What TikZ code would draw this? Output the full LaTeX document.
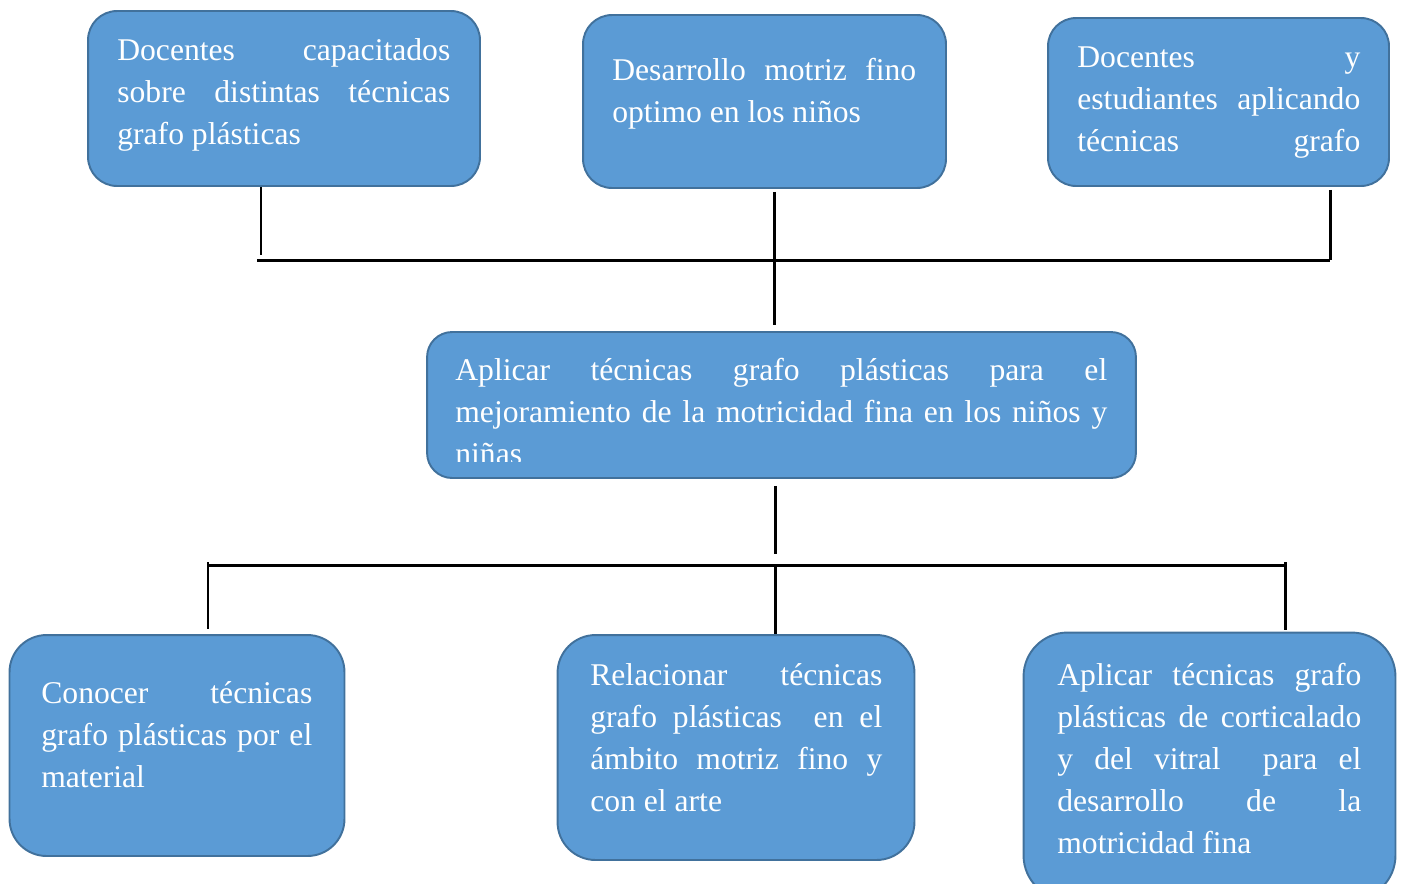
\documentclass[tikz,border=0pt]{standalone}
\usepackage{fontspec}
\setmainfont{Liberation Serif}
\definecolor{azul}{HTML}{5B9BD5}
\definecolor{borde}{HTML}{41719C}
\newcommand{\anchotexto}{5cm}
\newcommand{\renglon}[1]{\makebox[\anchotexto][s]{\strut #1}}

\begin{document}
\begin{tikzpicture}[x=0.02cm,y=-0.02cm,
  caja/.style={draw=borde,fill=azul,line width=1.1pt,inner sep=0pt},
  texto/.style={text=white,inner sep=0pt,anchor=north west,align=left,
    font=\fontsize{18}{23.9}\selectfont},
  ancho/.code={\renewcommand{\anchotexto}{#1}},
  linea/.style={line width=1.7pt}]
\useasboundingbox (0,0) rectangle (1402,883);
\clip (0,0) rectangle (1402,883);

\node[caja,minimum width=7.84cm,minimum height=3.5cm,rounded corners=0.58cm] (c1) at (284,98.5) {};
\node[caja,minimum width=7.26cm,minimum height=3.46cm,rounded corners=0.58cm] (c2) at (764.5,101.5) {};
\node[caja,minimum width=6.82cm,minimum height=3.36cm,rounded corners=0.56cm] (c3) at (1218.5,102) {};
\node[texto,ancho=6.66cm] (tc1) at (117,30.6)
  {\renglon{Docentes capacitados}\\\renglon{sobre distintas técnicas}\\\strut grafo plásticas};
\node[texto,ancho=6.08cm] (tc2) at (612,50.6)
  {\renglon{Desarrollo motriz fino}\\\strut optimo en los niños};
\node[texto,ancho=5.66cm] (tc3) at (1077,37.6)
  {\renglon{Docentes y}\\\renglon{estudiantes aplicando}\\\renglon{técnicas grafo}};

\node[caja,minimum width=14.18cm,minimum height=2.92cm,rounded corners=0.5cm] (m) at (781.5,405) {};
\begin{scope}
\clip (426,331) rectangle (1137,461);
\node[texto,ancho=13.04cm] (tm) at (455,350.6)
  {\renglon{Aplicar técnicas grafo plásticas para el}\\\renglon{mejoramiento de la motricidad fina en los niños y}\\\strut niñas};
\end{scope}

\node[caja,minimum width=6.7cm,minimum height=4.42cm,rounded corners=0.74cm] (r1) at (177,745.5) {};
\node[caja,minimum width=7.14cm,minimum height=4.5cm,rounded corners=0.76cm] (r2) at (736,747.5) {};
\node[caja,minimum width=7.44cm,minimum height=5.34cm,rounded corners=0.88cm] (r3) at (1209.5,766) {};
\node[texto,ancho=5.42cm] (tr1) at (41,673.6)
  {\renglon{Conocer técnicas}\\\renglon{grafo plásticas por el}\\\strut material};
\node[texto,ancho=5.84cm] (tr2) at (590,655.6)
  {\renglon{Relacionar técnicas}\\\renglon{grafo plásticas\ \ en el}\\\renglon{ámbito motriz fino y}\\\strut con el arte};
\node[texto,ancho=6.08cm] (tr3) at (1057,655.6)
  {\renglon{Aplicar técnicas grafo}\\\renglon{plásticas de corticalado}\\\renglon{y del vitral\ \ para el}\\\renglon{desarrollo de la}\\\strut motricidad fina};

\coordinate (s1) at (261,260);
\coordinate (s2) at (774,260);
\coordinate (s3) at (1330,260);
\draw[linea,shorten >=0.1cm] (c1.south -| s1) -- (s1);
\draw[linea,shorten <=0.06cm,shorten >=0.12cm] (c2.south -| s2) -- (m.north -| s2);
\draw[linea,shorten <=0.06cm] (c3.south -| s3) -- (s3);
\draw[linea] ([xshift=-0.08cm]s1) -- (s3);

\coordinate (i1) at (208,565);
\coordinate (i2) at (775,565);
\coordinate (i3) at (1285,565);
\draw[linea,shorten <=0.14cm,shorten >=0.22cm] (m.south -| i2) -- (i2);
\draw[linea] (i1) -- (i3);
\draw[linea,shorten <=-0.06cm,shorten >=0.1cm] (i1) -- (r1.north -| i1);
\draw[linea] (i2) -- (r2.north -| i2);
\draw[linea,shorten <=-0.06cm,shorten >=0.04cm] (i3) -- (r3.north -| i3);
\end{tikzpicture}
\end{document}
